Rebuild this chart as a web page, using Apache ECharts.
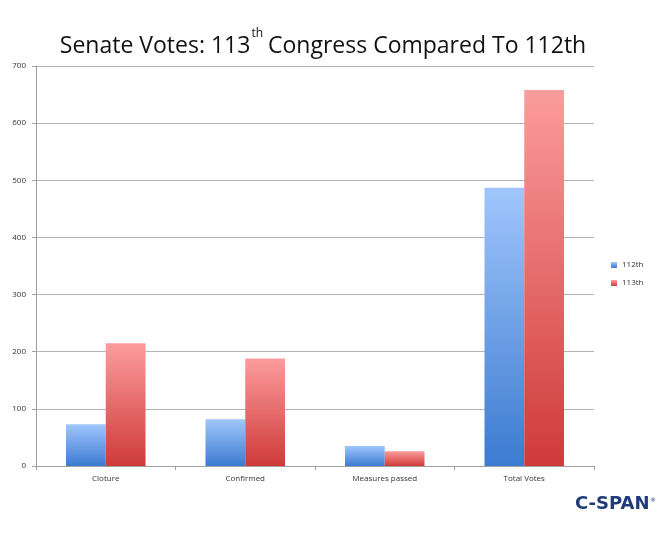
<!DOCTYPE html>
<html><head><meta charset="utf-8">
<script src="https://cdn.jsdelivr.net/npm/echarts@6/dist/echarts.min.js"></script>
<style>html,body{margin:0;padding:0;background:#fff}#c{width:667px;height:545px}</style>
</head><body><div id="c"></div>
<script>
const categories = ['Cloture', 'Confirmed', 'Measures passed', 'Total Votes'];
const seriesNames = ['112th', '113th'];
const values112 = [73, 82, 35, 487];
const values113 = [215, 188, 26, 658];
const yTicks = [0, 100, 200, 300, 400, 500, 600, 700];

const chart = echarts.init(document.getElementById('c'));
const grad = (top, bottom) => new echarts.graphic.LinearGradient(0, 0, 0, 1, [
  {offset: 0, color: top}, {offset: 1, color: bottom}]);
chart.setOption({
  animation: false,
  backgroundColor: '#fff',
  title: {
    text: '{m|Senate Votes: 113}{s|th}{m|Congress Compared To 112th}',
    left: 318, top: 23, textAlign: 'center',
    textStyle: {
      fontWeight: 'normal',
      rich: {
        m: {fontFamily: 'Open Sans', fontSize: 23, fontWeight: 'normal', color: '#111', verticalAlign: 'bottom', lineHeight: 30},
        s: {fontFamily: 'Open Sans', fontSize: 12, fontWeight: 'normal', color: '#111', verticalAlign: 'top', lineHeight: 30, padding: [0, 5, 3, 1]}
      }
    }
  },
  legend: {
    orient: 'vertical', left: 606, top: 256,
    itemWidth: 6, itemHeight: 6, itemGap: 10, icon: 'rect',
    textStyle: {fontFamily: 'Open Sans', fontSize: 8, color: '#333'},
    data: seriesNames
  },
  grid: {left: 36, right: 73, top: 66, bottom: 79},
  xAxis: {
    type: 'category', data: categories,
    axisLine: {lineStyle: {color: '#a0a0a0'}},
    axisTick: {show: true, alignWithLabel: false, length: 4, lineStyle: {color: '#a0a0a0'}},
    axisLabel: {fontFamily: 'Open Sans', fontSize: 8, color: '#333', margin: 9}
  },
  yAxis: {
    type: 'value', min: 0, max: 700, interval: 100,
    axisLine: {show: true, lineStyle: {color: '#a0a0a0'}},
    axisTick: {show: true, inside: false, length: 4, lineStyle: {color: '#a0a0a0'}},
    splitLine: {lineStyle: {color: '#b4b4b4'}},
    axisLabel: {fontFamily: 'Open Sans', fontSize: 8, color: '#333', margin: 10,
      formatter: v => yTicks.includes(v) ? String(v) : ''}
  },
  series: [
    {name: seriesNames[0], type: 'bar', data: values112, barGap: '0%', barCategoryGap: '43%',
      itemStyle: {color: grad('#a0c6fc', '#3c7bd0')}},
    {name: seriesNames[1], type: 'bar', data: values113, barGap: '0%', barCategoryGap: '43%',
      itemStyle: {color: grad('#fc9c9c', '#cf3a3a')}}
  ],
  graphic: [{
    type: 'text', left: 575, top: 495,
    style: {text: 'C-SPAN', fontFamily: 'DejaVu Sans', fontWeight: 'bold', fontSize: 18, fill: '#1f3c78'}
  }, {
    type: 'text', left: 650, top: 497,
    style: {text: '®', fontFamily: 'DejaVu Sans', fontSize: 6, fill: '#1f3c78'}
  }]
});
</script></body></html>
